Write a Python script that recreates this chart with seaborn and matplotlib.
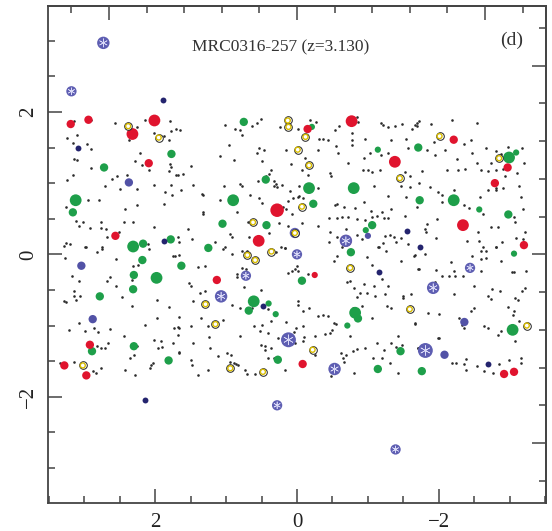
import numpy as np
import pandas as pd
import matplotlib
matplotlib.use('Agg')
import matplotlib.pyplot as plt
from matplotlib.ticker import MultipleLocator, NullFormatter
import seaborn as sns

# 1. Data: sky positions (arcmin offsets)
field_name = 'MRC0316-257 (z=3.130)'
panel_tag = '(d)'

black_dots = [
    (3.14, 1.87), (2.90, 1.88), (2.57, 1.84), (2.14, 1.89), (1.79, 1.87), (2.25, 1.79), (2.02, 1.70),
    (1.88, 1.66), (1.77, 1.73), (1.70, 1.76), (3.24, 1.63), (3.10, 1.67), (3.16, 1.56), (2.96, 1.55),
    (2.90, 1.48), (2.37, 1.61), (1.80, 1.60), (3.14, 1.34), (3.10, 1.32), (2.22, 1.43), (2.29, 1.31),
    (2.91, 1.21), (2.18, 1.25), (1.79, 1.27), (1.78, 1.23), (2.09, 1.18), (3.16, 1.12), (2.61, 1.06),
    (2.54, 1.10), (2.40, 1.11), (1.81, 1.17), (1.71, 1.11), (3.24, 1.04), (2.70, 0.96), (2.50, 0.92),
    (2.25, 0.92), (2.01, 0.98), (1.77, 0.97), (1.86, 0.88), (2.94, 0.76), (2.79, 0.77), (2.26, 0.69),
    (3.26, 0.67), (2.42, 0.64), (1.88, 0.71), (1.76, 0.83), (3.11, 0.47), (3.01, 0.46), (3.07, 0.40),
    (2.92, 0.37), (2.76, 0.46), (2.77, 0.37), (2.69, 0.36), (2.44, 0.46), (2.31, 0.46), (2.01, 0.39),
    (2.68, 0.25), (2.51, 0.31), (3.26, 0.16), (3.20, 0.14), (2.99, 0.11), (2.75, 0.11), (2.10, 0.14),
    (1.68, 0.25),
    (1.65, 1.74), (1.01, 1.81), (0.87, 1.76), (0.80, 1.74), (0.78, 1.67), (0.63, 1.80), (0.56, 1.85),
    (0.51, 1.90), (0.24, 1.79), (0.96, 1.54), (0.54, 1.50), (0.47, 1.47), (0.56, 1.42), (0.15, 1.46),
    (1.08, 1.38), (0.89, 1.32), (0.49, 1.31), (0.08, 1.27), (1.50, 1.24), (0.36, 1.19), (0.39, 1.13),
    (0.43, 1.10), (1.68, 1.12), (1.60, 1.13), (1.47, 0.98), (1.03, 0.96), (0.81, 0.99), (0.77, 0.96),
    (0.55, 1.03), (0.32, 1.03), (0.29, 0.99), (0.32, 0.96), (0.28, 0.94), (0.21, 0.97), (1.63, 0.90),
    (1.34, 0.85), (1.32, 0.83), (1.08, 0.76), (0.66, 0.84), (0.53, 0.79), (0.49, 0.72), (0.10, 0.89),
    (0.06, 0.79), (0.12, 0.75), (-0.01, 0.80), (1.32, 0.60), (1.32, 0.57), (0.84, 0.60), (0.69, 0.46),
    (0.19, 0.67), (0.16, 0.63), (0.07, 0.57), (1.54, 0.36), (0.95, 0.29), (0.91, 0.24), (0.68, 0.24),
    (0.39, 0.30), (0.25, 0.44), (0.13, 0.40), (1.66, 0.17), (1.48, 0.21), (1.15, 0.17), (1.02, 0.10),
    (0.23, 0.11), (0.17, 0.09),
    (-0.02, 1.76), (-0.18, 1.88), (-0.27, 1.86), (-0.53, 1.74), (-0.59, 1.80), (-0.77, 1.70),
    (-0.85, 1.93), (-0.86, 1.86), (-1.18, 1.85), (-1.21, 1.82), (-1.28, 1.79), (-1.38, 1.80),
    (-1.48, 1.83), (-1.62, 1.76), (-1.66, 1.81), (-1.69, 1.84), (-0.31, 1.62), (-0.36, 1.62),
    (-0.44, 1.61), (-0.55, 1.52), (-0.58, 1.43), (-0.77, 1.60), (-0.78, 1.54), (-0.96, 1.62),
    (-1.29, 1.43), (-1.33, 1.61), (-1.54, 1.62), (-0.11, 1.35), (-0.30, 1.46), (-0.72, 1.28),
    (-0.95, 1.35), (-1.03, 1.42), (-1.18, 1.39), (-1.56, 1.50), (-0.07, 1.18), (-0.15, 1.12),
    (-0.46, 1.14), (-0.48, 1.10), (-0.93, 1.18), (-1.00, 1.18), (-1.06, 1.15), (-1.17, 1.18),
    (-1.52, 1.16), (-1.59, 1.10), (-0.03, 0.96), (-0.29, 0.93), (-1.08, 0.96), (-1.47, 0.96),
    (-1.60, 0.95), (-0.03, 0.82), (-0.09, 0.79), (-0.54, 0.69), (-0.57, 0.71), (-0.67, 0.66),
    (-0.82, 0.65), (-0.95, 0.74), (-1.05, 0.61), (-1.20, 0.60), (-1.28, 0.82), (-1.33, 0.63),
    (-1.54, 0.80), (-0.07, 0.44), (-0.29, 0.40), (-0.45, 0.51), (-0.57, 0.51), (-0.63, 0.53),
    (-0.72, 0.53), (-0.85, 0.50), (-0.96, 0.48), (-1.06, 0.53), (-1.13, 0.54), (-1.23, 0.51),
    (-1.29, 0.51), (-1.52, 0.54), (-0.46, 0.32), (-0.57, 0.25), (-0.69, 0.36), (-0.85, 0.27),
    (-0.91, 0.22), (-1.24, 0.26), (-1.31, 0.27), (-1.37, 0.24), (-1.47, 0.23), (-0.45, 0.17),
    (-0.63, 0.11), (-1.14, 0.11), (-1.21, 0.16), (-1.40, 0.17), (-1.57, 0.14),
    (-1.72, 1.87), (-1.89, 1.83), (-2.19, 1.89), (-2.54, 1.84), (-1.69, 1.80), (-1.93, 1.58),
    (-2.08, 1.47), (-1.95, 1.39), (-1.83, 1.46), (-2.36, 1.55), (-2.45, 1.60), (-2.66, 1.49),
    (-2.81, 1.45), (-2.87, 1.41), (-2.98, 1.51), (-3.17, 1.49), (-1.76, 1.17), (-2.12, 1.19),
    (-2.27, 1.19), (-2.37, 1.20), (-2.25, 1.34), (-2.47, 1.42), (-2.54, 1.28), (-2.59, 1.19),
    (-2.69, 1.17), (-2.81, 1.18), (-2.91, 1.20), (-2.73, 1.28), (-3.10, 1.14), (-3.20, 1.28),
    (-2.93, 1.10), (-1.72, 1.00), (-1.88, 0.95), (-1.99, 0.88), (-2.05, 0.84), (-2.21, 0.90),
    (-2.70, 0.91), (-2.80, 0.93), (-2.81, 0.90), (-2.90, 0.93), (-2.58, 0.80), (-3.13, 0.96),
    (-3.16, 0.81), (-1.69, 0.67), (-2.05, 0.74), (-2.36, 0.70), (-2.42, 0.65), (-2.62, 0.57),
    (-3.06, 0.53), (-3.07, 0.46), (-3.19, 0.63), (-1.98, 0.49), (-1.83, 0.43), (-1.81, 0.36),
    (-1.82, 0.31), (-1.96, 0.23), (-2.40, 0.19), (-2.57, 0.19), (-2.55, 0.31), (-2.73, 0.39),
    (-2.83, 0.39), (-3.09, 0.23), (-3.19, 0.22), (-3.21, 0.31), (-2.89, 0.17), (-2.81, 0.11),
    (-2.62, 0.10),
    (3.27, -0.05), (3.29, 0.12), (2.97, 0.10), (2.82, 0.03), (2.75, 0.07), (2.55, -0.06), (2.24, -0.15),
    (2.31, -0.17), (2.09, 0.08), (1.75, -0.02), (1.72, -0.03), (3.17, -0.30), (3.08, -0.38),
    (2.68, -0.38), (2.64, -0.32), (2.55, -0.44), (2.33, -0.36), (2.17, -0.09), (3.28, -0.65),
    (3.25, -0.67), (3.14, -0.59), (3.14, -0.51), (3.06, -0.58), (3.12, -0.64), (2.47, -0.60),
    (2.33, -0.72), (1.98, -0.64), (1.80, -0.74), (3.07, -0.96), (3.21, -1.06), (2.99, -1.08),
    (2.86, -1.03), (2.80, -1.09), (2.63, -1.05), (2.44, -1.14), (2.14, -0.99), (1.98, -0.90),
    (1.73, -1.04), (1.68, -1.02), (2.76, -1.32), (2.71, -1.31), (2.66, -1.25), (2.82, -1.29),
    (2.26, -1.29), (2.35, -1.46), (2.30, -1.42), (2.01, -1.20), (1.92, -1.21), (1.96, -1.31),
    (1.91, -1.30), (1.75, -1.25), (1.67, -1.38), (3.14, -1.51), (2.87, -1.64), (2.83, -1.67),
    (2.77, -1.60), (2.43, -1.63), (2.28, -1.69), (2.06, -1.55), (2.03, -1.53), (2.07, -1.59),
    (3.34, -1.53),
    (1.66, -0.01), (1.40, -0.18), (1.30, -0.16), (1.04, 0.08), (0.91, 0.01), (0.77, 0.05), (0.71, 0.05),
    (0.29, 0.04), (0.17, 0.09), (1.52, -0.40), (1.49, -0.44), (1.37, -0.54), (1.30, -0.52),
    (0.85, -0.28), (0.84, -0.32), (0.78, -0.19), (0.72, -0.21), (0.74, -0.46), (0.51, -0.50),
    (0.12, -0.26), (0.07, -0.23), (0.03, -0.20), (1.47, -0.65), (1.67, -0.88), (1.49, -1.01),
    (1.36, -0.90), (1.25, -1.00), (1.04, -0.92), (0.91, -0.71), (0.80, -0.75), (0.63, -0.75),
    (0.41, -0.77), (0.49, -0.99), (0.36, -0.94), (0.16, -0.95), (-0.02, -0.71), (1.67, -1.03),
    (1.68, -1.13), (1.46, -1.25), (1.24, -1.16), (1.23, -1.32), (0.81, -1.14), (0.60, -1.01),
    (0.52, -1.07), (0.41, -1.11), (0.51, -1.27), (0.45, -1.29), (0.36, -1.32), (0.45, -1.35),
    (0.04, -1.09), (0.01, -1.03), (0.27, -1.18), (1.66, -1.37), (1.50, -1.49), (1.48, -1.56),
    (1.26, -1.63), (1.39, -1.69), (1.11, -1.43), (0.99, -1.39), (0.93, -1.41), (0.94, -1.51),
    (0.89, -1.53), (0.86, -1.54), (0.83, -1.56), (0.73, -1.62), (0.71, -1.68), (0.59, -1.68),
    (0.41, -1.46), (0.32, -1.45), (0.17, -1.63),
    (0.00, -0.17), (-0.01, -0.23), (-0.15, -0.28), (-0.52, -0.09), (-0.56, -0.02), (-0.99, -0.04),
    (-1.06, -0.15), (-1.15, 0.10), (-1.25, 0.05), (-1.47, -0.10), (-1.65, -0.02), (-1.71, -0.20),
    (-0.70, -0.39), (-0.75, -0.37), (-0.80, -0.47), (-0.85, -0.60), (-0.89, -0.54), (-0.95, -0.42),
    (-0.99, -0.54), (-1.08, -0.44), (-1.10, -0.58), (-1.20, -0.35), (-1.24, -0.55), (-1.29, -0.44),
    (-0.02, -0.65), (-0.17, -0.75), (-0.08, -0.80), (-0.37, -0.85), (-0.44, -0.86), (-0.29, -0.87),
    (-0.79, -0.76), (-0.91, -0.72), (-1.06, -0.89), (-1.27, -0.72), (-1.33, -0.75), (-1.49, -0.58),
    (-1.50, -0.61), (-1.61, -0.56), (-1.67, -0.98), (-0.08, -1.00), (-0.52, -0.97), (-0.55, -0.98),
    (-0.50, -1.06), (-0.46, -1.10), (-0.39, -1.12), (-0.26, -1.15), (-0.10, -1.16), (-0.75, -1.14),
    (-1.42, -1.14), (0.03, -1.25), (-0.09, -1.22), (-0.26, -1.41), (-0.62, -1.39), (-0.65, -1.45),
    (-0.69, -1.42), (-0.79, -1.36), (-0.85, -1.33), (-0.96, -1.32), (-1.13, -1.24), (-1.22, -1.35),
    (-1.32, -1.25), (-1.40, -1.30), (-1.48, -1.28), (-1.07, -1.46), (-1.20, -1.46), (-1.31, -1.53),
    (-1.70, -1.31), (-0.67, -1.51), (-0.81, -1.67), (-0.48, -1.71), (-1.43, -1.67),
    (-1.81, 0.00), (-1.66, -0.01), (-2.47, -0.02), (-2.60, 0.05), (-2.67, 0.05), (-2.60, -0.06),
    (-2.67, -0.05), (-2.80, 0.10), (-2.88, -0.09), (-2.17, -0.11), (-1.72, -0.20), (-1.96, -0.22),
    (-2.05, -0.30), (-2.14, -0.30), (-2.22, -0.23), (-2.23, -0.30), (-2.34, -0.31), (-2.59, -0.23),
    (-3.03, -0.25), (-3.06, -0.25), (-3.23, -0.24), (-1.94, -0.39), (-2.49, -0.45), (-2.21, -0.56),
    (-2.70, -0.58), (-2.75, -0.49), (-2.73, -0.63), (-2.86, -0.52), (-3.07, -0.61), (-3.12, -0.64),
    (-3.17, -0.52), (-3.21, -0.47), (-1.85, -0.83), (-2.00, -0.84), (-2.28, -0.89), (-2.45, -0.79),
    (-2.50, -0.76), (-2.64, -1.00), (-2.70, -1.03), (-2.98, -0.74), (-3.06, -0.79), (-3.05, -0.85),
    (-3.13, -0.94), (-1.67, -0.96), (-2.33, -0.99), (-2.36, -1.04), (-2.84, -1.13), (-2.88, -1.07),
    (-3.08, -1.22), (-1.99, -1.18), (-2.00, -1.17), (-1.70, -1.31), (-2.19, -1.53), (-2.24, -1.53),
    (-2.36, -1.54), (-2.39, -1.47), (-2.38, -1.62), (-2.54, -1.57), (-2.63, -1.64), (-2.77, -1.67),
    (-2.85, -1.54), (-2.99, -1.48), (-3.16, -1.45), (-3.16, -1.53),
]

# size class: S small, M medium, B big, X largest
green_pts = [
    (1.77, 1.41, 'M'), (2.72, 1.22, 'M'), (3.12, 0.76, 'B'), (3.16, 0.59, 'M'), (2.31, 0.11, 'B'),
    (2.17, 0.15, 'M'), (1.78, 0.21, 'M'), (0.75, 1.86, 'M'), (0.44, 1.05, 'M'), (0.90, 0.76, 'B'),
    (1.05, 0.43, 'M'), (0.43, 0.41, 'M'), (1.25, 0.09, 'M'), (-0.21, 1.79, 'S'), (-1.14, 1.47, 'S'),
    (-1.71, 1.50, 'M'), (-0.17, 0.93, 'B'), (-0.80, 0.93, 'B'), (-0.23, 0.71, 'M'), (-1.06, 0.41, 'M'),
    (-0.97, 0.34, 'S'), (-1.73, 0.76, 'M'), (-2.99, 1.36, 'B'), (-3.09, 1.43, 'S'), (-2.21, 0.76, 'B'),
    (-2.57, 0.63, 'S'), (-2.98, 0.56, 'M'), (2.18, -0.08, 'M'), (1.98, -0.33, 'B'), (2.30, -0.29, 'M'),
    (2.31, -0.49, 'M'), (2.78, -0.59, 'M'), (2.89, -1.36, 'M'), (2.30, -1.29, 'M'), (1.81, -1.49, 'M'),
    (1.63, -0.16, 'M'), (0.61, -0.66, 'B'), (0.68, -0.79, 'M'), (0.40, -0.69, 'S'), (0.30, -0.84, 'S'),
    (0.27, -1.48, 'M'), (-0.76, 0.03, 'M'), (-0.07, -0.37, 'M'), (-0.82, -0.82, 'B'), (-0.86, -0.90, 'M'),
    (-0.71, -1.00, 'S'), (-1.46, -1.36, 'M'), (-1.14, -1.61, 'M'), (-3.06, 0.01, 'S'), (-3.04, -1.06, 'B'),
    (-1.76, -1.64, 'M'),
]

red_pts = [
    (3.19, 1.83, 'M'), (2.94, 1.89, 'M'), (2.01, 1.88, 'B'), (2.32, 1.69, 'B'), (2.09, 1.28, 'M'),
    (2.56, 0.26, 'M'), (0.28, 0.62, 'X'), (0.54, 0.19, 'B'), (-0.15, 1.76, 'M'), (-0.77, 1.87, 'B'),
    (-1.38, 1.30, 'B'), (-0.69, 0.19, 'B'), (-2.21, 1.61, 'M'), (-2.97, 1.22, 'M'), (-2.79, 1.00, 'M'),
    (-2.34, 0.41, 'B'), (-3.20, 0.13, 'M'), (1.13, -0.36, 'M'), (-0.25, -0.29, 'S'), (-0.08, -1.54, 'M'),
    (2.92, -1.27, 'M'), (3.28, -1.56, 'M'), (2.97, -1.70, 'M'), (-2.92, -1.68, 'M'), (-3.06, -1.65, 'M'),
]

yellow_pts = [
    (2.38, 1.80), (1.95, 1.64), (0.13, 1.88), (0.12, 1.79), (-0.01, 1.47), (0.62, 0.45), (0.03, 0.30),
    (-0.12, 1.65), (-0.17, 1.25), (-1.45, 1.07), (-0.07, 0.67), (-2.01, 1.66), (-2.85, 1.35),
    (3.02, -1.56), (0.70, -0.01), (0.59, -0.08), (0.36, 0.04), (1.29, -0.70), (1.15, -0.98),
    (0.94, -1.60), (0.48, -1.65), (-0.75, -0.19), (-1.59, -0.77), (-0.22, -1.34), (-3.24, -1.00),
]

star_pts = [
    (2.73, 2.97, 'B'), (3.18, 2.29, 'M'), (0.00, 0.00, 'M'), (0.03, 0.30, 'M'), (0.72, -0.30, 'M'),
    (1.07, -0.59, 'B'), (0.12, -1.20, 'X'), (-0.53, -1.61, 'B'), (-2.44, -0.19, 'M'), (-1.92, -0.47, 'B'),
    (-1.81, -1.35, 'X'), (-1.39, -2.74, 'M'), (0.28, -2.12, 'M'), (-0.69, 0.19, 'B'),
]

blue_pts = [
    (2.37, 1.01, 'M'), (3.04, -0.16, 'M'), (2.88, -0.91, 'M'), (-1.00, 0.26, 'S'), (-2.36, -0.95, 'M'),
    (-2.08, -1.41, 'M'),
]

navy_pts = [
    (1.89, 2.17), (3.09, 1.50), (1.87, 0.19), (-1.55, 0.33), (-1.74, 0.11), (0.48, -0.72),
    (-1.15, -0.25), (-2.69, -1.54), (2.14, -2.05),
]

# 2. Figure
plt.rcParams['font.family'] = ['Liberation Serif', 'DejaVu Serif']
fig = plt.figure(figsize=(5.52, 5.31), dpi=100)
ax = fig.add_axes([0.087, 0.053, 0.902, 0.936])

size_map = {'S': 20, 'M': 36, 'B': 72, 'X': 95}
star_size_map = {'S': 30, 'M': 55, 'B': 80, 'X': 115}


def draw(points, color, z, sizes=size_map):
    df = pd.DataFrame(points, columns=['x', 'y', 'size'])
    sns.scatterplot(data=df, x='x', y='y', size='size', sizes=sizes, color=color,
                    linewidth=0, legend=False, ax=ax, zorder=z)
    return df


dots = pd.DataFrame(black_dots, columns=['x', 'y'])
sns.scatterplot(data=dots, x='x', y='y', s=3.5, color='#2b2b2b', linewidth=0, ax=ax, zorder=2)

draw(green_pts, '#1e9f4a', 3)
draw(red_pts, '#e0142e', 4)
draw(blue_pts, '#5252a6', 4)

stars = draw(star_pts, '#5e5eb2', 5, sizes=star_size_map)
inner_map = {k: v * 0.45 for k, v in star_size_map.items()}
sns.scatterplot(data=stars, x='x', y='y', size='size', sizes=inner_map,
                marker=(6, 2, 0), color='#e8e8ff', linewidth=0.45, alpha=0.9,
                legend=False, ax=ax, zorder=6)

navy = pd.DataFrame(navy_pts, columns=['x', 'y'])
sns.scatterplot(data=navy, x='x', y='y', s=18, color='#24246e', linewidth=0, ax=ax, zorder=5)

# yellow rings: black outline, yellow annulus, white hole
yellow = pd.DataFrame(yellow_pts, columns=['x', 'y'])
sns.scatterplot(data=yellow, x='x', y='y', s=30, color='white', edgecolor='#222222', linewidth=0.7, ax=ax, zorder=7)
sns.scatterplot(data=yellow, x='x', y='y', s=13, facecolor='none', edgecolor='#d8bc00', linewidth=1.0, ax=ax, zorder=8)

# 3. Axes
ax.set_xlim(3.51, -3.51)
ax.set_ylim(-3.49, 3.49)
ax.set_xlabel('')
ax.set_ylabel('')
ax.xaxis.set_major_locator(MultipleLocator(2))
ax.xaxis.set_minor_locator(MultipleLocator(0.5))
ax.yaxis.set_major_locator(MultipleLocator(2))
ax.yaxis.set_minor_locator(MultipleLocator(0.5))
ax.tick_params(which='both', direction='in', color='#444444', width=1.1, labelsize=15, labelcolor='#222222')
ax.tick_params(which='major', length=10, pad=7)
ax.tick_params(which='minor', length=5)
fmt = matplotlib.ticker.FuncFormatter(lambda v, p: f'{v:.0f}'.replace('-', '\u2212'))
ax.xaxis.set_major_formatter(fmt)
ax.yaxis.set_major_formatter(fmt)
for lab in ax.get_yticklabels():
    lab.set_rotation(90)
    lab.set_va('center')
for s in ax.spines.values():
    s.set_color('#444444')
    s.set_linewidth(1.3)

# top and right axes in a different unit
scale = 0.53
top = ax.secondary_xaxis('top', functions=(lambda v: v / scale, lambda v: v * scale))
right = ax.secondary_yaxis('right', functions=(lambda v: v / scale, lambda v: v * scale))
for sec, axis in ((top, top.xaxis), (right, right.yaxis)):
    axis.set_major_locator(MultipleLocator(5))
    axis.set_minor_locator(MultipleLocator(1))
    axis.set_major_formatter(NullFormatter())
    sec.tick_params(which='both', direction='in', color='#444444', width=1.1)
    sec.tick_params(which='major', length=10)
    sec.tick_params(which='minor', length=5)
    for s in sec.spines.values():
        s.set_color('#444444')
        s.set_linewidth(1.3)

ax.text(0.23, 2.91, field_name, ha='center', va='center', fontsize=12.5, color='#333333')
ax.text(-3.03, 3.01, panel_tag, ha='center', va='center', fontsize=14, color='#333333')

plt.savefig('out.png', dpi=100)
